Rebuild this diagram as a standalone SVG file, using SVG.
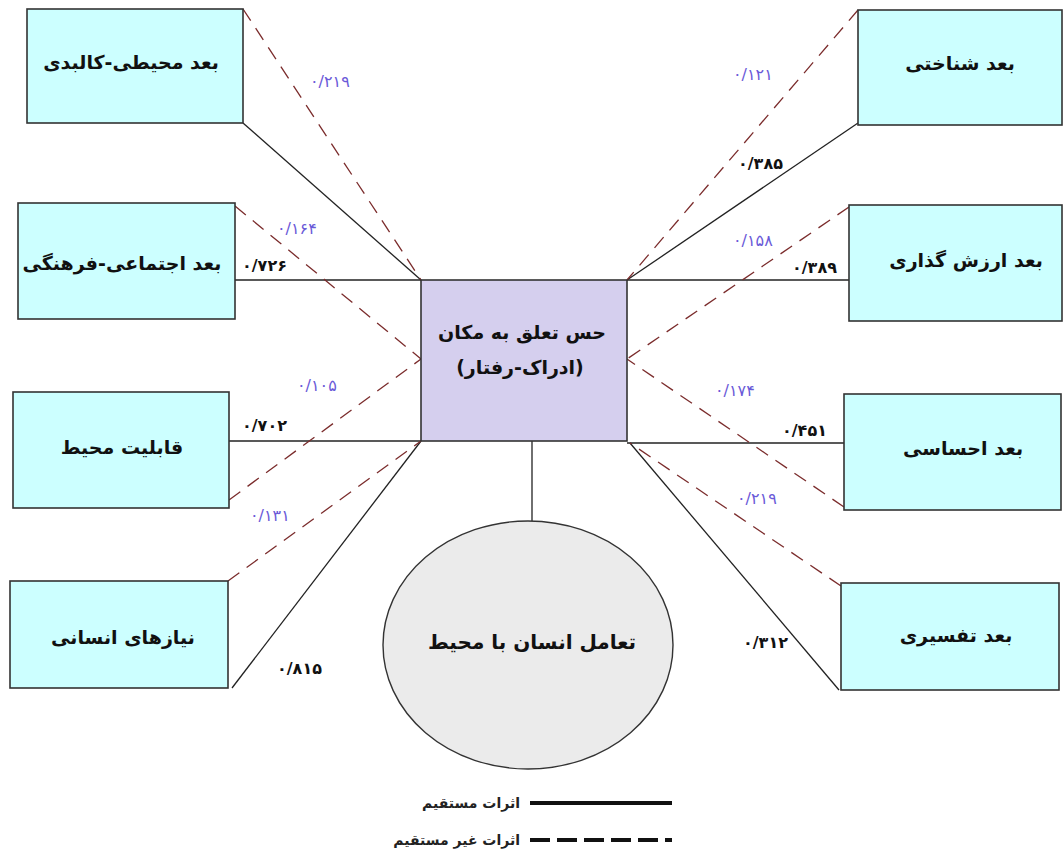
<svg xmlns="http://www.w3.org/2000/svg" width="1063" height="856" viewBox="0 0 1063 856">
<style>
.box{fill:#ccffff;stroke:#333;stroke-width:1.6}
.ctr{fill:#d5cfee;stroke:#333;stroke-width:1.6}
.ell{fill:#ebebeb;stroke:#333;stroke-width:1.4}
.solid{stroke:#222;stroke-width:1.3;fill:none}
.dash{stroke:#7b2c2c;stroke-width:1.3;stroke-dasharray:14 9;fill:none}
.nt{font-family:"DejaVu Sans",sans-serif;font-weight:bold;font-size:19px;fill:#111;text-anchor:middle}
.lb{font-family:"DejaVu Sans",sans-serif;font-size:16px;fill:#6a5ad8}
.lk{font-family:"DejaVu Sans",sans-serif;font-size:16px;fill:#111;font-weight:bold}
.lg{font-family:"DejaVu Sans",sans-serif;font-weight:bold;font-size:14px;fill:#222;text-anchor:end}
</style>
<rect width="1063" height="856" fill="#fff"/>
<g id="connectors">
<line class="solid" x1="243" y1="123" x2="421" y2="280"/>
<line class="solid" x1="235" y1="280" x2="421" y2="280"/>
<line class="solid" x1="229" y1="441" x2="421" y2="441"/>
<line class="solid" x1="232" y1="688" x2="421" y2="441"/>
<line class="solid" x1="627" y1="280" x2="858" y2="123"/>
<line class="solid" x1="627" y1="280" x2="849" y2="280"/>
<line class="solid" x1="627" y1="443" x2="844" y2="443"/>
<line class="solid" x1="630" y1="443" x2="839" y2="690"/>
<line class="solid" x1="532" y1="441" x2="532" y2="521"/>
<line class="dash" x1="243" y1="9" x2="421" y2="280"/>
<line class="dash" x1="235" y1="206" x2="421" y2="359"/>
<line class="dash" x1="229" y1="500" x2="421" y2="359"/>
<line class="dash" x1="228" y1="581" x2="421" y2="441"/>
<line class="dash" x1="858" y1="10" x2="627" y2="280"/>
<line class="dash" x1="849" y1="207" x2="627" y2="359"/>
<line class="dash" x1="844" y1="507" x2="627" y2="359"/>
<line class="dash" x1="841" y1="586" x2="630" y2="443"/>
<text class="lb" x="310" y="87">۰/۲۱۹</text>
<text class="lb" x="277" y="234">۰/۱۶۴</text>
<text class="lk" x="242" y="271">۰/۷۲۶</text>
<text class="lb" x="297" y="391">۰/۱۰۵</text>
<text class="lk" x="242" y="431">۰/۷۰۲</text>
<text class="lb" x="250" y="521">۰/۱۳۱</text>
<text class="lk" x="277" y="674">۰/۸۱۵</text>
<text class="lb" x="733" y="80">۰/۱۲۱</text>
<text class="lk" x="738" y="169">۰/۳۸۵</text>
<text class="lb" x="733" y="246">۰/۱۵۸</text>
<text class="lk" x="792" y="273">۰/۳۸۹</text>
<text class="lb" x="715" y="396">۰/۱۷۴</text>
<text class="lk" x="782" y="436">۰/۴۵۱</text>
<text class="lb" x="737" y="504">۰/۲۱۹</text>
<text class="lk" x="743" y="648">۰/۳۱۲</text>
</g>
<g id="n-center">
<rect class="ctr" x="421" y="280" width="206" height="161"/>
<text class="nt" x="522" y="339" direction="rtl">حس تعلق به مکان</text>
<text class="nt" x="520" y="374" direction="rtl">(ادراک-رفتار)</text>
</g>
<g id="n-interaction">
<ellipse class="ell" cx="528" cy="645" rx="145" ry="124"/>
<text class="nt" x="532" y="649" direction="rtl" style="font-size:20px">تعامل انسان با محیط</text>
</g>
<g id="n-physical">
<rect class="box" x="27" y="9" width="216" height="114"/>
<text class="nt" x="131" y="69" direction="rtl">بعد محیطی-کالبدی</text>
</g>
<g id="n-social">
<rect class="box" x="18" y="203" width="217" height="116"/>
<text class="nt" x="122" y="270" direction="rtl">بعد اجتماعی-فرهنگی</text>
</g>
<g id="n-capability">
<rect class="box" x="13" y="392" width="216" height="116"/>
<text class="nt" x="122" y="454" direction="rtl">قابلیت محیط</text>
</g>
<g id="n-needs">
<rect class="box" x="10" y="581" width="218" height="107"/>
<text class="nt" x="123" y="644" direction="rtl">نیازهای انسانی</text>
</g>
<g id="n-cognitive">
<rect class="box" x="858" y="10" width="204" height="115"/>
<text class="nt" x="960" y="70" direction="rtl">بعد شناختی</text>
</g>
<g id="n-value">
<rect class="box" x="849" y="205" width="213" height="116"/>
<text class="nt" x="966" y="267" direction="rtl">بعد ارزش گذاری</text>
</g>
<g id="n-emotional">
<rect class="box" x="844" y="394" width="217" height="116"/>
<text class="nt" x="963" y="455" direction="rtl">بعد احساسی</text>
</g>
<g id="n-interpretive">
<rect class="box" x="841" y="583" width="218" height="107"/>
<text class="nt" x="956" y="642" direction="rtl">بعد تفسیری</text>
</g>
<g id="legend">
<line x1="530" y1="803" x2="672" y2="803" stroke="#111" stroke-width="4"/>
<line x1="530" y1="840" x2="672" y2="840" stroke="#111" stroke-width="4" stroke-dasharray="20 7"/>
<text class="lg" x="520" y="808">اثرات مستقیم</text>
<text class="lg" x="520" y="845">اثرات غیر مستقیم</text>
</g>
</svg>
